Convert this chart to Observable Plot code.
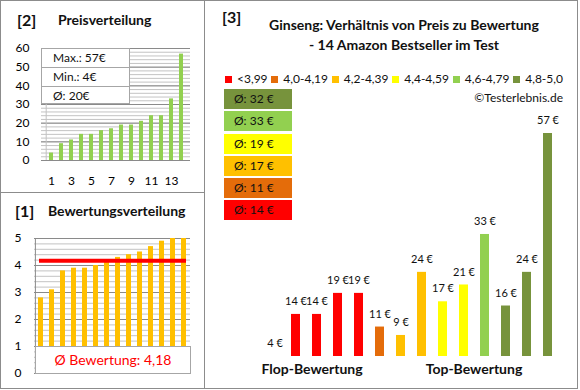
<!DOCTYPE html>
<html><head><meta charset="utf-8">
<script src="https://cdn.jsdelivr.net/npm/d3@7"></script>
<script src="https://cdn.jsdelivr.net/npm/@observablehq/plot@0.6"></script>
<style>
body{margin:0;background:#fff;font-family:Lato,"Open Sans",sans-serif;color:#111;}
#root{position:relative;width:580px;height:390px;overflow:hidden;background:#fff;}
.plot{position:absolute;}
</style></head><body><div id="root"></div>
<script>
// ---- data ----
const priceDist = [4, 9, 11, 14, 14, 16, 17, 19, 19, 21, 24, 24, 33, 57];           // Preisverteilung (sorted)
const priceTicks = [1, 3, 5, 7, 9, 11, 13];
const priceYTicks = [0, 10, 20, 30, 40, 50, 60];
const ratingDist = [2.8, 3.1, 3.8, 3.9, 3.9, 4.0, 4.2, 4.3, 4.4, 4.5, 4.7, 4.9, 5.0, 5.0]; // Bewertungsverteilung
const ratingYTicks = [0, 1, 2, 3, 4, 5];
const productPrices = [4, 14, 14, 19, 19, 11, 9, 24, 17, 21, 33, 16, 24, 57];
const productRatings = [2.8, 3.1, 3.8, 3.9, 3.9, 4.0, 4.2, 4.3, 4.4, 4.5, 4.7, 4.9, 5.0, 5.0];
const catLabels = ["<3,99", "4,0-4,19", "4,2-4,39", "4,4-4,59", "4,6-4,79", "4,8-5,0"];
const catThresholds = [4.0, 4.2, 4.4, 4.6, 4.8];
const catColors = ["#ff0000", "#e46c0a", "#ffc000", "#ffff00", "#92d050", "#77933c"];
const titleLines = ["Ginseng: Verhältnis von Preis zu Bewertung", "- 14 Amazon Bestseller im Test"];

// ---- helpers ----
const root = document.getElementById("root");
function el(tag, css, text) {
  const e = document.createElement(tag);
  e.style.cssText = css;
  if (text != null) e.textContent = text;
  root.appendChild(e);
  return e;
}
function place(svg, left, top) {
  svg.classList.add("plot");
  svg.style.left = left + "px";
  svg.style.top = top + "px";
  root.appendChild(svg);
}
const fmtDE = (v, d) => v.toFixed(d).replace(".", ",");
const baseStyle = {fontFamily: "Lato, sans-serif", fontSize: "12px", color: "#000", background: "transparent", overflow: "visible"};
const minorC = "#c3c3c3", majorC = "#8a8a8a";

// ---- panel [2] Preisverteilung ----
const p2 = Plot.plot({
  width: 204, height: 192,
  marginLeft: 41, marginRight: 14, marginTop: 48, marginBottom: 32,
  style: baseStyle,
  x: {type: "band", domain: d3.range(1, priceDist.length + 1), paddingInner: 0.6, paddingOuter: 0.3,
      ticks: priceTicks, tickSize: 0, tickPadding: 16, label: null},
  y: {domain: [0, 60], ticks: priceYTicks, tickFormat: d => String(d), tickSize: 0, tickPadding: 12, label: null},
  marks: [
    Plot.ruleY(d3.range(0, 61, 2), {stroke: minorC}),
    Plot.ruleY(priceYTicks, {stroke: majorC}),
    Plot.ruleX([1], {stroke: minorC, dx: -5.3}),
    Plot.barY(priceDist, {x: (d, i) => i + 1, y: d => d, fill: "#92d050"})
  ]
});
place(p2, 0, 0);

// info box
const info = el("div", "position:absolute;left:41px;top:48px;width:89px;height:56px;background:#fff;border:1px solid #a6a6a6;box-sizing:border-box;font-size:12px;");
[["Max.: ", d3.max(priceDist)], ["Min.: ", d3.min(priceDist)], ["Ø: ", Math.round(d3.mean(priceDist))]].forEach(([k, v], i) => {
  const r = document.createElement("div");
  r.style.cssText = "height:18px;line-height:18px;padding-left:11px;" + (i < 2 ? "border-bottom:1px solid #a6a6a6;" : "");
  r.textContent = k + v + "€";
  info.appendChild(r);
});

el("div", "position:absolute;left:17px;top:10px;font-size:16px;font-weight:bold;white-space:nowrap;", "[2]");
el("div", "position:absolute;left:58px;top:11px;font-size:14px;font-weight:bold;white-space:nowrap;", "Preisverteilung");

// ---- panel [1] Bewertungsverteilung ----
const meanRating = d3.mean(ratingDist);
const p1 = Plot.plot({
  width: 204, height: 196,
  marginLeft: 34, marginRight: 14, marginTop: 45, marginBottom: 16,
  style: baseStyle,
  x: {type: "band", domain: d3.range(1, ratingDist.length + 1), paddingInner: 0.55, paddingOuter: 0.275, axis: null},
  y: {domain: [0, 5], ticks: ratingYTicks, tickFormat: d => String(d), tickSize: 0, tickPadding: 13, label: null},
  marks: [
    Plot.ruleY(d3.range(0, 5.01, 0.2), {stroke: minorC}),
    Plot.ruleY(ratingYTicks, {stroke: majorC}),
    Plot.ruleX([1], {stroke: majorC, dx: -5.6}),
    Plot.barY(ratingDist, {x: (d, i) => i + 1, y: d => d, fill: "#ffc000"}),
    Plot.ruleY([meanRating], {stroke: "#ff0000", strokeWidth: 4, insetLeft: 5, insetRight: 4})
  ]
});
place(p1, 0, 193);
el("div", "position:absolute;left:35px;top:346px;width:156px;height:28px;background:#fff;border:1px solid #a6a6a6;box-sizing:border-box;color:#ff0000;font-size:14px;text-align:center;line-height:26px;",
   "Ø Bewertung: " + fmtDE(meanRating, 2));
el("div", "position:absolute;left:15px;top:201px;font-size:16px;font-weight:bold;white-space:nowrap;", "[1]");
el("div", "position:absolute;left:48px;top:202px;font-size:14px;font-weight:bold;white-space:nowrap;", "Bewertungsverteilung");

// ---- panel [3] Preis vs Bewertung ----
const prodData = productPrices.map((p, i) => ({i, price: p, rating: productRatings[i]}));
const yBase = d3.min(productPrices);
const p3 = Plot.plot({
  width: 373, height: 389,
  marginLeft: 59, marginRight: 20, marginTop: 133, marginBottom: 33,
  style: baseStyle,
  x: {type: "band", domain: d3.range(prodData.length), paddingInner: 0.57, paddingOuter: 0.285, axis: null},
  y: {domain: [yBase, d3.max(productPrices)], axis: null},
  color: {type: "threshold", domain: catThresholds, range: catColors},
  marks: [
    Plot.barY(prodData, {x: "i", y1: yBase, y2: "price", fill: "rating"}),
    Plot.text(prodData, {x: "i", y: "price", text: d => d.price + " €", dy: -13, fill: "#111", fontSize: 11})
  ]
});
place(p3, 205, 0);

el("div", "position:absolute;left:222px;top:7px;font-size:16px;font-weight:bold;white-space:nowrap;", "[3]");
el("div", "position:absolute;left:254px;top:15px;width:300px;text-align:center;font-size:14px;font-weight:bold;line-height:20px;white-space:nowrap;",
   null).innerHTML = titleLines.join("<br>");

// legend
const leg = el("div", "position:absolute;left:225px;top:71px;width:338px;display:flex;justify-content:space-between;font-size:12px;line-height:16px;");
catLabels.forEach((lab, k) => {
  const it = document.createElement("div");
  it.style.cssText = "display:flex;align-items:center;white-space:nowrap;";
  const sw = document.createElement("span");
  sw.style.cssText = `display:inline-block;width:7px;height:7px;background:${catColors[k]};margin-right:5px;`;
  it.appendChild(sw);
  it.appendChild(document.createTextNode(lab));
  leg.appendChild(it);
});
el("div", "position:absolute;right:17px;top:90px;font-size:12px;line-height:16px;white-space:nowrap;", "©Testerlebnis.de");

// average boxes (top = best category)
const catOf = r => d3.bisectRight(catThresholds, r);
const avgBox = el("div", "position:absolute;left:224px;top:89px;width:68px;");
d3.range(catLabels.length).reverse().forEach(k => {
  const vals = prodData.filter(d => catOf(d.rating) === k).map(d => d.price);
  const b = document.createElement("div");
  b.style.cssText = `height:20px;line-height:20px;margin-bottom:2.3px;background:${catColors[k]};font-size:12px;padding-left:10px;color:#111;`;
  b.textContent = "Ø: " + Math.round(d3.mean(vals)) + " €";
  avgBox.appendChild(b);
});

el("div", "position:absolute;left:212px;top:360px;width:200px;text-align:center;font-size:14px;font-weight:bold;white-space:nowrap;", "Flop-Bewertung");
el("div", "position:absolute;left:374px;top:360px;width:200px;text-align:center;font-size:14px;font-weight:bold;white-space:nowrap;", "Top-Bewertung");

// ---- frames ----
el("div", "position:absolute;left:0;top:0;width:578px;height:389px;border:1px solid #8c8c8c;box-sizing:border-box;");
el("div", "position:absolute;left:204px;top:0;width:1px;height:389px;background:#8c8c8c;");
el("div", "position:absolute;left:0;top:192px;width:205px;height:1px;background:#8c8c8c;");
</script>
</body></html>
